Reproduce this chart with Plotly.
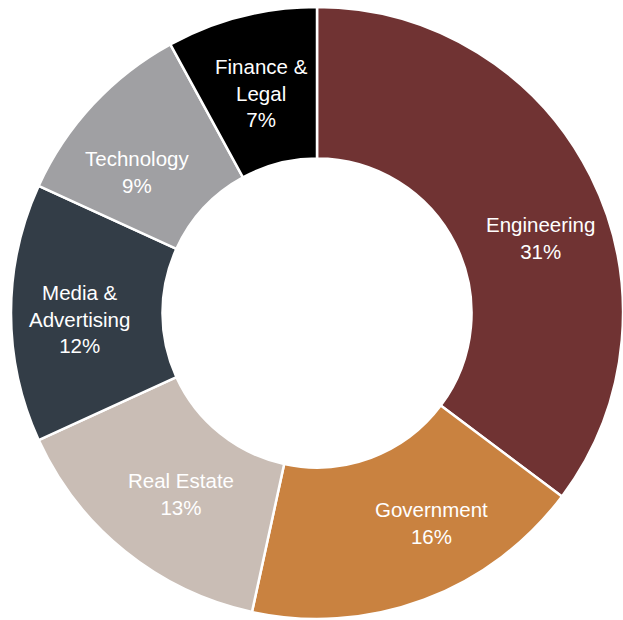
import plotly.graph_objects as go

# Share of staff by sector
sectors = ["Engineering", "Government", "Real Estate", "Media &<br>Advertising", "Technology", "Finance &<br>Legal"]
shares = [31, 16, 13, 12, 9, 7]
colors = ["#703333", "#C98240", "#C9BDB5", "#333D47", "#A0A0A3", "#000000"]

# Label anchor points (pixels from top-left) for each sector's caption
label_px = [(540, 238), (432, 523), (181, 494), (80, 319), (137, 172), (261, 93)]

W, H = 623, 620
cx, cy, r = 317, 313, 306

fig = go.Figure(
    go.Pie(
        labels=sectors,
        values=shares,
        textinfo="none",
        marker=dict(colors=colors, line=dict(color="white", width=2.5)),
        hole=0.505,
        sort=False,
        direction="clockwise",
        rotation=0,
        hoverinfo="label+value",
        domain=dict(
            x=[(cx - r) / W, min(1.0, (cx + r) / W)],
            y=[max(0.0, (H - cy - r) / H), (H - cy + r) / H],
        ),
    )
)

for name, val, (px, py) in zip(sectors, shares, label_px):
    fig.add_annotation(
        x=px / W,
        y=1 - py / H,
        xref="paper",
        yref="paper",
        text=f"{name}<br>{val}%",
        showarrow=False,
        xanchor="center",
        yanchor="middle",
        align="center",
        font=dict(family="Arial, Liberation Sans, sans-serif", size=20.5, color="white"),
    )

fig.update_layout(
    width=W,
    height=H,
    margin=dict(l=0, r=0, t=0, b=0),
    showlegend=False,
    paper_bgcolor="white",
    plot_bgcolor="white",
)

fig.write_html("out.html")
